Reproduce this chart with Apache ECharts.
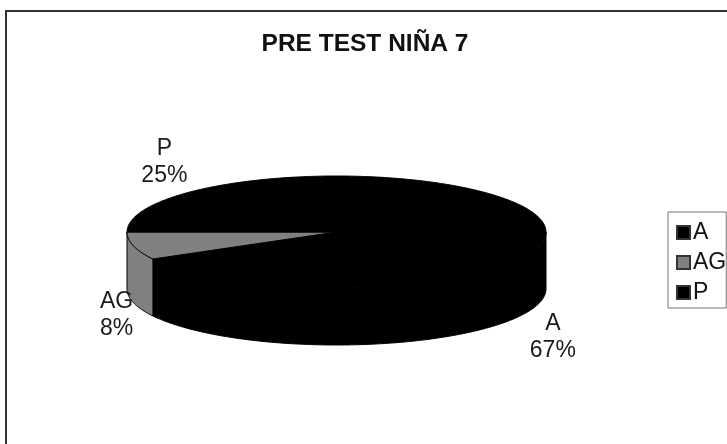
<!DOCTYPE html>
<html>
<head>
<meta charset="utf-8">
<style>
  html, body { margin: 0; padding: 0; background: #fff; }
  #chart { width: 727px; height: 444px; }
</style>
<script src="https://cdn.jsdelivr.net/npm/echarts@6/dist/echarts.min.js"></script>
</head>
<body>
<div id="chart"></div>
<script>
const titleText = 'PRE TEST NIÑA 7'
const categories = ['A', 'AG', 'P']
const values = [67, 8, 25]
const colors = ['#000000', '#808080', '#000000']
// 标签相对扇区中点的偏移
const labelShiftX = [36, -17, -24]
const labelShiftY = [77, 69, -30]

// 椭圆饼的几何参数
const cx = 336.5
const cy = 232
const rx = 209.5
const ry = 56
const depth = 57

const total = values.reduce((a, b) => a + b, 0)

function ellipsePoint (angle, dy) {
  // angle 从 12 点钟方向顺时针
  return [cx + rx * Math.sin(angle), cy - ry * Math.cos(angle) + (dy || 0)]
}

function arcPoints (from, to, dy) {
  const pts = []
  const steps = Math.max(2, Math.ceil((to - from) / 0.01))
  for (let i = 0; i <= steps; i++) {
    pts.push(ellipsePoint(from + (to - from) * i / steps, dy))
  }
  return pts
}

function startAngle (index) {
  let sum = 0
  for (let i = 0; i < index; i++) sum += values[i]
  return sum / total * Math.PI * 2
}

function renderSlice (index) {
  const from = startAngle(index)
  const to = from + values[index] / total * Math.PI * 2
  const color = colors[index]
  const children = []

  // 侧面只画朝前的部分（90° 到 270°）
  const sideFrom = Math.max(from, Math.PI / 2)
  const sideTo = Math.min(to, Math.PI * 1.5)
  if (sideTo > sideFrom) {
    const front = arcPoints(sideFrom, sideTo, 0)
    const back = arcPoints(sideFrom, sideTo, depth).reverse()
    children.push({
      type: 'polygon',
      shape: { points: front.concat(back) },
      style: { fill: color, stroke: '#000', lineWidth: 1 }
    })
  }

  // 顶面
  children.push({
    type: 'polygon',
    shape: { points: [[cx, cy]].concat(arcPoints(from, to, 0)) },
    style: { fill: color, stroke: '#000', lineWidth: 1 }
  })

  // 数据标签
  const mid = ellipsePoint((from + to) / 2, 0)
  children.push({
    type: 'text',
    x: mid[0] + labelShiftX[index],
    y: mid[1] + labelShiftY[index],
    z2: 10,
    style: {
      text: categories[index] + '\n' + values[index] + '%',
      fill: '#1a1a1a',
      font: '23px "Liberation Sans"',
      align: 'center',
      verticalAlign: 'middle',
      lineHeight: 27
    }
  })
  return { type: 'group', children: children }
}

const chart = echarts.init(document.getElementById('chart'))
chart.setOption({
  animation: false,
  color: colors,
  title: {
    text: titleText,
    left: 360,
    top: 27,
    textAlign: 'center',
    textStyle: {
      fontFamily: 'Liberation Sans',
      fontSize: 24.5,
      fontWeight: 'bold',
      color: '#111'
    }
  },
  legend: {
    orient: 'vertical',
    left: 668,
    top: 212,
    padding: [9, 0, 4, 8],
    itemWidth: 13,
    itemHeight: 13,
    itemGap: 7,
    borderColor: '#777',
    borderWidth: 1,
    icon: 'rect',
    data: categories,
    textStyle: {
      fontFamily: 'Liberation Sans',
      fontSize: 23,
      color: '#111',
      padding: [0, 0, 0, -2]
    }
  },
  graphic: [{
    type: 'rect',
    silent: true,
    z: -1,
    shape: { x: 6, y: 11, width: 730, height: 440 },
    style: { fill: 'none', stroke: '#333', lineWidth: 2 }
  }],
  series: categories.map((name, index) => ({
    type: 'custom',
    name: name,
    coordinateSystem: 'none',
    data: [values[index]],
    itemStyle: { color: colors[index], borderColor: '#333', borderWidth: 1 },
    renderItem: () => renderSlice(index)
  }))
})
</script>
</body>
</html>
